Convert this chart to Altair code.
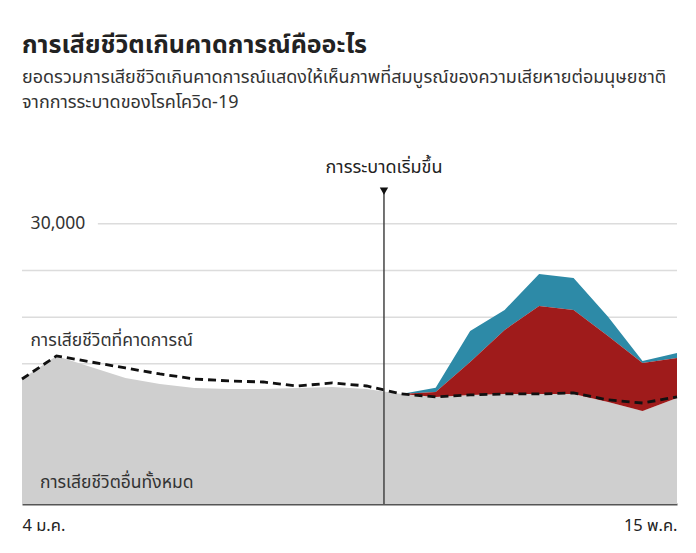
import altair as alt
import pandas as pd

# ---- data ----
weeks = list(range(20))
x_tick_positions = [0, 19]
x_tick_labels = ["4 ม.ค.", "15 พ.ค."]

other_deaths = [13380, 15850, 14670, 13490, 12850, 12420, 12310, 12310, 12420, 12530,
                12310, 11780, 11460, 11670, 11780, 11780, 11780, 10920, 9960, 11350]
covid_deaths = [0, 0, 0, 0, 0, 0, 0, 0, 0, 0,
                0, 0, 540, 3530, 6850, 9420, 8990, 7070, 5140, 4280]
other_excess = [0, 0, 0, 0, 0, 0, 0, 0, 0, 0,
                0, 0, 430, 3320, 2140, 3430, 3430, 2040, 210, 540]
expected_deaths = [13380, 15850, 15200, 14560, 13920, 13380, 13170, 13060, 12630, 12960,
                   12630, 11780, 11460, 11670, 11780, 11780, 11890, 11140, 10810, 11460]

grid_values = [5000, 10000, 15000, 20000, 25000, 30000]
grid_starts = [0, 0, 0, 0, 0, 2.2]
y_label_value = 30000
y_label_text = "30,000"

pandemic_week = 10.5
pandemic_top = 33500
pandemic_label = "การระบาดเริ่มขึ้น"
pandemic_label_value = 36000

expected_label = "การเสียชีวิตที่คาดการณ์"
expected_label_pos = (0.25, 17450)
other_label = "การเสียชีวิตอื่นทั้งหมด"
other_label_pos = (0.52, 2250)

title_text = "การเสียชีวิตเกินคาดการณ์คืออะไร"
subtitle_lines = [
    "ยอดรวมการเสียชีวิตเกินคาดการณ์แสดงให้เห็นภาพที่สมบูรณ์ของความเสียหายต่อมนุษยชาติ",
    "จากการระบาดของโรคโควิด-19",
]

FONT = "Tahoma, 'Noto Sans Thai', 'Noto Sans', sans-serif"

# ---- tables ----
df = pd.DataFrame({
    "week": weeks,
    "other": other_deaths,
    "expected": expected_deaths,
})
df["covid_top"] = df["other"] + pd.Series(covid_deaths)
df["excess_top"] = df["covid_top"] + pd.Series(other_excess)
df_excess = df[df["week"] >= 11]

grid_df = pd.DataFrame({"gy": grid_values, "gx": grid_starts, "gx2": [19] * len(grid_values)})
vline_df = pd.DataFrame({"vx": [pandemic_week], "vy": [0], "vy2": [pandemic_top]})
texts_df = pd.DataFrame({
    "tx": [expected_label_pos[0], other_label_pos[0], 0.25],
    "ty": [expected_label_pos[1], other_label_pos[1], y_label_value],
    "label": [expected_label, other_label, y_label_text],
    "size": [17.5, 17.5, 17.5],
})
ann_df = pd.DataFrame({"tx": [pandemic_week], "ty": [pandemic_label_value], "label": [pandemic_label]})

label_expr = " : ".join(
    [f"datum.value == {p} ? '{l}'" for p, l in zip(x_tick_positions[:-1], x_tick_labels[:-1])]
    + [f"'{x_tick_labels[-1]}'"]
)

x_scale = alt.Scale(domain=[0, 19], nice=False, zero=False)
x_axis = alt.Axis(values=x_tick_positions, labelExpr=label_expr, title=None, grid=False,
                  ticks=False, domainColor="#555555", domainWidth=2, labelFlush=True,
                  labelFontSize=16.5, labelColor="#222222", labelPadding=13, labelFont=FONT)
y_scale = alt.Scale(domain=[0, 35000], nice=False)

def X(field):
    return alt.X(field, type="quantitative", scale=x_scale, axis=x_axis)

def Y(field):
    return alt.Y(field, type="quantitative", scale=y_scale, axis=None)

base = alt.Chart(df)

grid = alt.Chart(grid_df).mark_rule(color="#dcdcdc", strokeWidth=1.5).encode(
    x=X("gx"), x2="gx2", y=Y("gy"))

gray = base.mark_area(color="#cfcfcf").encode(x=X("week"), y=Y("other"))

red = alt.Chart(df_excess).mark_area(color="#9f1b1b").encode(
    x=X("week"), y=Y("covid_top"), y2="other")

blue = alt.Chart(df_excess).mark_area(color="#2d8aa7").encode(
    x=X("week"), y=Y("excess_top"), y2="covid_top")

dashed = base.mark_line(color="#111111", strokeWidth=2.8, strokeDash=[8, 5]).encode(
    x=X("week"), y=Y("expected"))

vline = alt.Chart(vline_df).mark_rule(color="#444444", strokeWidth=1.5).encode(
    x=X("vx"), y=Y("vy"), y2="vy2")

tri = alt.Chart(vline_df).mark_point(shape="triangle-down", filled=True, color="#111111",
                                     size=70, opacity=1).encode(x=X("vx"), y=Y("vy2"))

texts = alt.Chart(texts_df).mark_text(align="left", baseline="middle", font=FONT,
                                      color="#333333").encode(
    x=X("tx"), y=Y("ty"), text="label:N", size=alt.Size("size:Q", scale=None, legend=None))

ann = alt.Chart(ann_df).mark_text(align="center", baseline="middle", font=FONT,
                                  fontSize=18, color="#222222").encode(
    x=X("tx"), y=Y("ty"), text="label:N")

chart = alt.layer(grid, gray, blue, red, dashed, vline, tri, texts, ann).properties(
    width=655,
    height=327,
    autosize=alt.AutoSizeParams(type="none"),
    padding={"left": 14, "top": 169, "right": 11, "bottom": 40},
    title=alt.TitleParams(
        text=title_text,
        subtitle=subtitle_lines,
        anchor="start",
        frame="group",
        font=FONT,
        fontSize=25,
        fontWeight="bold",
        color="#222222",
        subtitleFont=FONT,
        subtitleFontSize=18,
        subtitleColor="#333333",
        subtitleLineHeight=24.5,
        subtitlePadding=11,
        offset=47,
    ),
).configure_view(stroke=None)

chart.save("out.html", embed_options={"renderer": "svg", "actions": False})
